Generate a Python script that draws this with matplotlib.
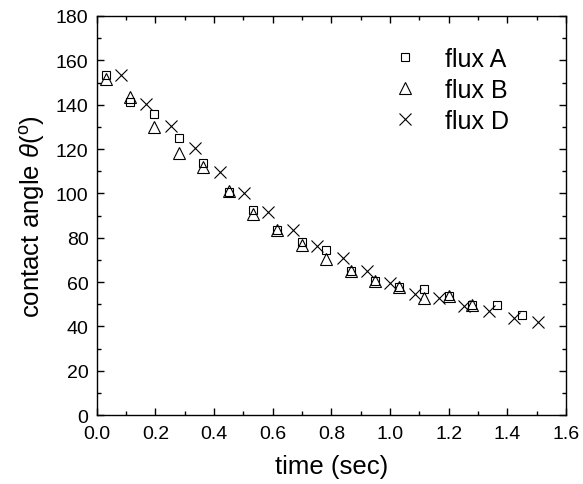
import matplotlib
matplotlib.use('Agg')
import matplotlib.pyplot as plt
from matplotlib.ticker import MultipleLocator

plt.rcParams['font.family'] = ['Liberation Sans', 'DejaVu Sans']
plt.rcParams['mathtext.fontset'] = 'custom'
plt.rcParams['mathtext.it'] = 'Liberation Sans:italic'
plt.rcParams['mathtext.rm'] = 'Liberation Sans'

# ── data ─────────────────────────────────────────────────────────────────────
t_a = [0.031, 0.112, 0.196, 0.28, 0.362, 0.451, 0.533, 0.615, 0.698, 0.78,
       0.865, 0.95, 1.03, 1.115, 1.2, 1.28, 1.365, 1.45]
theta_a = [153.4, 141, 136, 124.8, 113.5, 100.5, 92.5, 83.4, 78.2, 74.4,
           65, 60.6, 57.6, 56.8, 53.8, 49.6, 49.6, 45.1]

t_b = [0.031, 0.112, 0.196, 0.28, 0.362, 0.451, 0.533, 0.615, 0.698, 0.78,
       0.865, 0.95, 1.03, 1.115, 1.2, 1.28]
theta_b = [151.6, 143.6, 129.8, 118, 111.7, 101, 90.7, 83.4, 76.7, 70.4,
           65, 60.6, 57.6, 52.6, 53.8, 49.6]

t_d = [0.084, 0.167, 0.252, 0.334, 0.419, 0.502, 0.585, 0.669, 0.75, 0.839,
       0.92, 1.0, 1.085, 1.166, 1.252, 1.337, 1.422, 1.504]
theta_d = [153.4, 140.3, 130.5, 120.3, 109.8, 100, 91.4, 83.4, 76.4, 70.7,
           65, 59.4, 54.6, 52.6, 49, 46.8, 43.6, 42]

fig = plt.figure(figsize=(5.83, 4.85), dpi=100)
ax = fig.add_axes([0.166, 0.142, 0.805, 0.823])

ax.plot(t_a, theta_a, ls='none', marker='s', ms=5.5, mfc='none', mec='black',
        mew=0.8, label='flux A')
ax.plot(t_b, theta_b, ls='none', marker='^', ms=8, mfc='none', mec='black',
        mew=0.8, label='flux B')
ax.plot(t_d, theta_d, ls='none', marker='x', ms=8, mec='black',
        mew=0.8, label='flux D')

ax.set_xlim(0, 1.6)
ax.set_ylim(0, 180)
ax.xaxis.set_major_locator(MultipleLocator(0.2))
ax.xaxis.set_minor_locator(MultipleLocator(0.1))
ax.yaxis.set_major_locator(MultipleLocator(20))
ax.yaxis.set_minor_locator(MultipleLocator(10))
ax.xaxis.set_major_formatter(plt.FuncFormatter(lambda v, p: f'{v:.1f}'))

ax.tick_params(which='both', direction='in', top=True, right=True,
               labelsize=14, width=1)
ax.tick_params(which='major', length=5)
ax.tick_params(which='minor', length=3)
ax.tick_params(axis='x', which='major', pad=7)
ax.tick_params(axis='y', which='major', pad=6)
for s in ax.spines.values():
    s.set_linewidth(1)

ax.set_xlabel('time (sec)', fontsize=18.5, labelpad=9)
ax.set_ylabel(r'contact angle $\mathit{\theta}$($^{\mathrm{o}}$)', fontsize=18.5,
              labelpad=6)

ax.legend(loc='upper left', bbox_to_anchor=(0.567, 0.967), frameon=False,
          fontsize=18, handletextpad=0.6, labelspacing=0.29, borderaxespad=0.3)

fig.savefig('out.png', dpi=100)
